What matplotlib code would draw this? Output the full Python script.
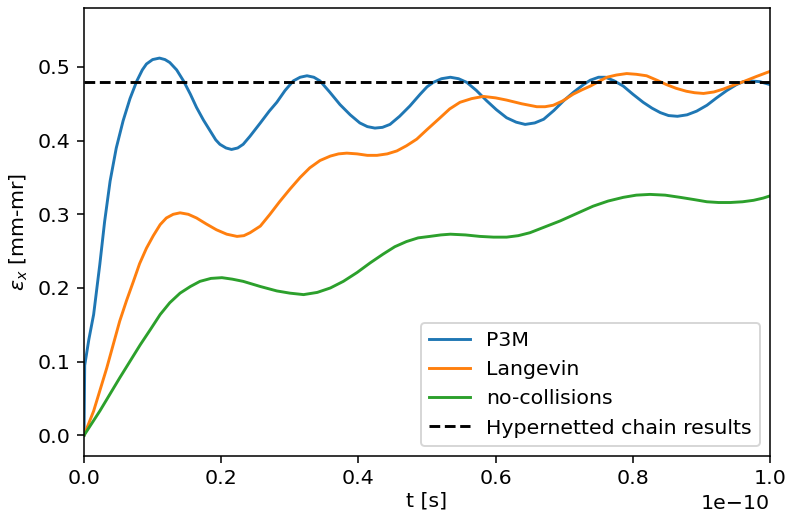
import matplotlib
matplotlib.use('Agg')
import matplotlib.pyplot as plt
import numpy as np

# valores (t em unidades de 1e-10 s)
t_p3m = [0.0, 0.001, 0.007, 0.014, 0.023, 0.030, 0.038, 0.047, 0.057, 0.067, 0.077, 0.085,
         0.091, 0.100, 0.110, 0.118, 0.125, 0.135, 0.145, 0.155, 0.164, 0.174, 0.184, 0.192,
         0.198, 0.207, 0.215, 0.224, 0.232, 0.242, 0.257, 0.270, 0.281, 0.293, 0.305, 0.315,
         0.325, 0.335, 0.344, 0.358, 0.373, 0.388, 0.402, 0.413, 0.424, 0.435, 0.446, 0.460,
         0.475, 0.490, 0.500, 0.509, 0.521, 0.534, 0.546, 0.558, 0.572, 0.587, 0.601, 0.616,
         0.630, 0.643, 0.657, 0.670, 0.685, 0.699, 0.714, 0.728, 0.738, 0.750, 0.760, 0.773,
         0.786, 0.800, 0.815, 0.828, 0.840, 0.852, 0.865, 0.879, 0.893, 0.908, 0.922, 0.937,
         0.951, 0.961, 0.971, 0.985, 1.0]
eps_p3m = [0.0, 0.095, 0.130, 0.164, 0.232, 0.290, 0.345, 0.390, 0.427, 0.457, 0.481, 0.496,
           0.504, 0.510, 0.512, 0.510, 0.506, 0.496, 0.481, 0.463, 0.445, 0.428, 0.413, 0.401,
           0.395, 0.390, 0.388, 0.390, 0.395, 0.406, 0.424, 0.440, 0.452, 0.468, 0.481, 0.486,
           0.488, 0.486, 0.481, 0.466, 0.449, 0.435, 0.424, 0.419, 0.417, 0.418, 0.422, 0.433,
           0.447, 0.463, 0.473, 0.479, 0.484, 0.486, 0.484, 0.479, 0.468, 0.454, 0.442, 0.431,
           0.425, 0.422, 0.424, 0.429, 0.441, 0.454, 0.466, 0.476, 0.482, 0.486, 0.486, 0.481,
           0.474, 0.463, 0.452, 0.444, 0.438, 0.434, 0.433, 0.435, 0.440, 0.448, 0.458, 0.468,
           0.476, 0.480, 0.481, 0.480, 0.476]

t_lang = [0.0, 0.014, 0.033, 0.052, 0.062, 0.072, 0.081, 0.091, 0.101, 0.111, 0.120, 0.130,
          0.140, 0.152, 0.164, 0.178, 0.193, 0.208, 0.223, 0.233, 0.242, 0.257, 0.271, 0.285,
          0.300, 0.315, 0.329, 0.344, 0.359, 0.371, 0.383, 0.398, 0.413, 0.427, 0.442, 0.456,
          0.470, 0.485, 0.500, 0.519, 0.533, 0.548, 0.565, 0.582, 0.600, 0.616, 0.638, 0.660,
          0.672, 0.684, 0.698, 0.713, 0.726, 0.738, 0.750, 0.762, 0.776, 0.791, 0.805, 0.820,
          0.835, 0.849, 0.863, 0.878, 0.890, 0.903, 0.918, 0.932, 0.946, 0.961, 0.980, 1.0]
eps_lang = [0.0, 0.033, 0.091, 0.155, 0.183, 0.209, 0.233, 0.254, 0.271, 0.286, 0.295, 0.300,
            0.302, 0.300, 0.295, 0.287, 0.279, 0.273, 0.270, 0.271, 0.275, 0.284, 0.300, 0.317,
            0.334, 0.350, 0.363, 0.373, 0.379, 0.382, 0.383, 0.382, 0.380, 0.380, 0.382, 0.386,
            0.393, 0.402, 0.415, 0.431, 0.443, 0.452, 0.457, 0.460, 0.458, 0.455, 0.450, 0.446,
            0.446, 0.448, 0.454, 0.463, 0.469, 0.474, 0.480, 0.486, 0.489, 0.491, 0.490, 0.488,
            0.482, 0.476, 0.471, 0.467, 0.465, 0.464, 0.466, 0.470, 0.475, 0.480, 0.487, 0.494]

t_nocol = [0.0, 0.023, 0.052, 0.082, 0.097, 0.111, 0.125, 0.140, 0.155, 0.169, 0.185, 0.201,
           0.216, 0.232, 0.257, 0.281, 0.300, 0.320, 0.340, 0.359, 0.378, 0.398, 0.417, 0.436,
           0.453, 0.470, 0.487, 0.504, 0.520, 0.534, 0.556, 0.577, 0.597, 0.616, 0.633, 0.650,
           0.672, 0.694, 0.718, 0.742, 0.764, 0.786, 0.805, 0.825, 0.847, 0.869, 0.889, 0.908,
           0.925, 0.942, 0.960, 0.976, 0.990, 1.0]
eps_nocol = [0.0, 0.033, 0.078, 0.123, 0.144, 0.164, 0.180, 0.193, 0.202, 0.209, 0.213, 0.214,
             0.212, 0.209, 0.202, 0.196, 0.193, 0.191, 0.194, 0.200, 0.209, 0.221, 0.234, 0.246,
             0.256, 0.263, 0.268, 0.270, 0.272, 0.273, 0.272, 0.270, 0.269, 0.269, 0.271, 0.275,
             0.283, 0.291, 0.301, 0.311, 0.318, 0.323, 0.326, 0.327, 0.326, 0.323, 0.320, 0.317,
             0.316, 0.316, 0.317, 0.319, 0.322, 0.325]

hnc = 0.48

plt.rcParams['font.size'] = 10.6
plt.figure(figsize = (789/139, 515/139), dpi = 139)
plt.plot(np.array(t_p3m) * 1e-10, eps_p3m, label = 'P3M', solid_joinstyle = 'round')
plt.plot(np.array(t_lang) * 1e-10, eps_lang, label = 'Langevin', solid_joinstyle = 'round')
plt.plot(np.array(t_nocol) * 1e-10, eps_nocol, label = 'no-collisions', solid_joinstyle = 'round')
plt.axhline(hnc, color = 'black', linestyle = '--', label = 'Hypernetted chain results')
plt.xlim(0, 1e-10)
plt.ylim(-0.028, 0.58)
plt.xlabel('t [s]', labelpad = 1.5)
plt.ylabel(r'$\epsilon_x$ [mm-mr]')
plt.legend(loc = 'lower right')
plt.subplots_adjust(left = 0.1065, right = 0.976, bottom = 0.1146, top = 0.9845)
plt.savefig('out.png', dpi = 139)
